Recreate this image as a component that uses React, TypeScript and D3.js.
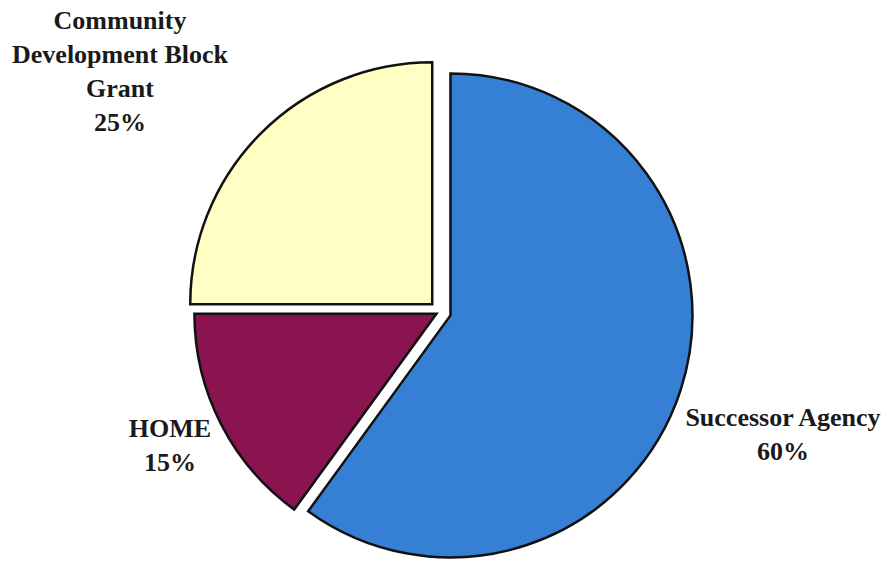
import * as d3 from "d3";
import React, { useRef, useEffect } from "react";

const categories = ["Successor Agency", "HOME", "Community Development Block Grant"];
const values = [60, 15, 25];
const labelLines = [
  ["Successor Agency", "60%"],
  ["HOME", "15%"],
  ["Community", "Development Block", "Grant", "25%"],
];

const colors = ["#3580d4", "#8a1450", "#ffffc4"];
const explode = [11, 4, 11];
// label anchors (centre x, first baseline y)
const labelPos = [
  [783, 426],
  [170, 437],
  [120, 29],
];

const WIDTH = 889;
const HEIGHT = 564;
const cx = 440;
const cy = 312;
const radius = 242;

const App = () => {
  const svgRef = useRef<SVGSVGElement>(null);

  useEffect(() => {
    if (!svgRef.current) return;
    const svg = d3.select(svgRef.current);
    svg.selectAll("*").remove();

    const data = categories.map((c, i) => ({ name: c, value: values[i], idx: i }));
    const pie = d3
      .pie<any>()
      .sort(null)
      .value((d) => d.value)
      .startAngle(0)
      .endAngle(2 * Math.PI);
    const arc = d3.arc<any>().innerRadius(0).outerRadius(radius);

    const g = svg.append("g").attr("transform", `translate(${cx},${cy})`);

    g.selectAll("path")
      .data(pie(data))
      .enter()
      .append("path")
      .attr("transform", (d) => {
        const mid = (d.startAngle + d.endAngle) / 2;
        const e = explode[d.data.idx];
        return `translate(${Math.sin(mid) * e},${-Math.cos(mid) * e})`;
      })
      .attr("d", arc)
      .attr("fill", (d) => colors[d.data.idx])
      .attr("stroke", "#111")
      .attr("stroke-width", 2.5)
      .attr("stroke-linejoin", "miter");

    const labels = svg
      .selectAll("text.lbl")
      .data(labelLines)
      .enter()
      .append("text")
      .attr("class", "lbl")
      .attr("text-anchor", "middle")
      .attr("font-family", "'Liberation Serif', 'Times New Roman', serif")
      .attr("font-weight", "bold")
      .attr("font-size", 26)
      .attr("fill", "#1a1a1a");

    labels.each(function (lines, i) {
      const t = d3.select(this);
      lines.forEach((ln, j) => {
        t.append("tspan")
          .attr("x", labelPos[i][0])
          .attr("y", labelPos[i][1] + j * 34)
          .text(ln);
      });
    });
  }, []);

  return (
    <svg
      ref={svgRef}
      width={WIDTH}
      height={HEIGHT}
      style={{ position: "absolute", left: 0, top: 0, background: "#fff" }}
    ></svg>
  );
};

export default App;
